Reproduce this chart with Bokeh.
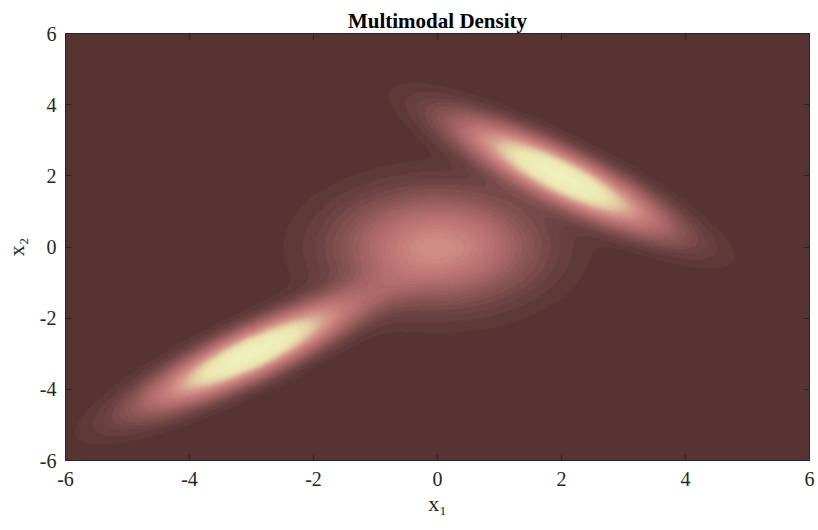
import numpy as np
from bokeh.plotting import figure
from bokeh.models import (LinearColorMapper, LinearAxis, FixedTicker, Range1d, Title,
                          CustomLabelingPolicy)
from bokeh.embed import file_html
from bokeh.resources import INLINE

# ---- mixture model behind the density ----
weights = [1.0, 1.0, 1.0]
means_x1 = [0.0, 2.0, -3.0]
means_x2 = [0.0, 2.0, -3.0]
var_x1 = [1.05, 1.06, 1.10]
var_x2 = [1.0, 0.94, 0.90]
cov_x1x2 = [0.0, -0.86, 0.86]

tick_values = [-6, -4, -2, 0, 2, 4, 6]
tick_labels = ["-6", "-4", "-2", "0", "2", "4", "6"]
title_text = "Multimodal Density"
x_label = "x\u2081"
y_label = "x\u2082"
n_levels = 40

# ---- density grid ----
nx, ny = 742, 428
gx = np.linspace(-6, 6, nx)
gy = np.linspace(-6, 6, ny)
X, Y = np.meshgrid(gx, gy)
Z = np.zeros_like(X)
for w, mx, my, a, b, c in zip(weights, means_x1, means_x2, var_x1, var_x2, cov_x1x2):
    det = a * b - c * c
    dx = X - mx
    dy = Y - my
    q = (b * dx * dx - 2 * c * dx * dy + a * dy * dy) / det
    Z += w * np.exp(-0.5 * q) / (2 * np.pi * np.sqrt(det))
Z /= sum(weights)

# ---- colormap (dark brown -> pink -> pale yellow) ----
stops_t = [0.0, 0.04, 0.12, 0.25, 0.40, 0.55, 0.68, 0.80, 1.0]
stops_c = [(85, 52, 51), (98, 60, 59), (125, 78, 77), (165, 100, 100), (195, 122, 120),
           (213, 155, 140), (228, 203, 165), (236, 230, 176), (240, 240, 186)]
palette = []
for i in range(n_levels):
    t = i / (n_levels - 1)
    rgb = [int(round(np.interp(t, stops_t, [c[k] for c in stops_c]))) for k in range(3)]
    palette.append("#%02x%02x%02x" % tuple(rgb))

mapper = LinearColorMapper(palette=palette, low=0, high=float(Z.max()))

FONT = "Liberation Serif"
INK = "#262626"
p = figure(width=818, height=530, output_backend="svg", toolbar_location=None,
           x_range=Range1d(-6, 6), y_range=Range1d(-6, 6),
           min_border_left=10, min_border_right=9, min_border_top=33, min_border_bottom=70)
p.image(image=[Z], x=-6, y=-6, dw=12, dh=12, color_mapper=mapper)

p.title = Title(text=title_text, align="center", text_font=FONT,
                text_font_size="21px", text_font_style="bold", text_color="#000000",
                standoff=2, offset=0)
p.grid.visible = False
p.outline_line_color = INK
p.background_fill_color = None
p.border_fill_color = "white"

overrides = {v: s for v, s in zip(tick_values, tick_labels)}
for ax in [p.xaxis[0], p.yaxis[0]]:
    ax.ticker = FixedTicker(ticks=tick_values)
    ax.major_label_overrides = overrides
    ax.major_tick_in = 6
    ax.major_tick_out = 0
    ax.minor_tick_in = 0
    ax.minor_tick_out = 0
    ax.axis_line_color = INK
    ax.major_tick_line_color = INK
    ax.major_label_text_font = FONT
    ax.major_label_text_font_size = "20px"
    ax.major_label_text_color = INK
    ax.axis_label_text_font = FONT
    ax.axis_label_text_font_size = "22px"
    ax.axis_label_text_font_style = "normal"
    ax.axis_label_text_color = INK
p.xaxis[0].major_label_standoff = 11
p.yaxis[0].major_label_standoff = 9
p.xaxis[0].axis_label = x_label
p.yaxis[0].axis_label = y_label
p.xaxis[0].axis_label_standoff = 2
p.yaxis[0].axis_label_standoff = 8

hide_all = CustomLabelingPolicy(
    code="const n = indices.size; for (let i = 0; i < n; i++) { indices.unset(i) } return indices")
for loc in ["above", "right"]:
    ax = LinearAxis(ticker=FixedTicker(ticks=tick_values), major_label_policy=hide_all)
    ax.major_tick_in = 6
    ax.major_tick_out = 0
    ax.minor_tick_in = 0
    ax.minor_tick_out = 0
    ax.major_label_standoff = 0
    ax.major_label_text_font_size = "0px"
    ax.axis_label_standoff = 0
    ax.axis_line_color = INK
    ax.major_tick_line_color = INK
    p.add_layout(ax, loc)

open("out.html", "w").write(file_html(p, INLINE))
